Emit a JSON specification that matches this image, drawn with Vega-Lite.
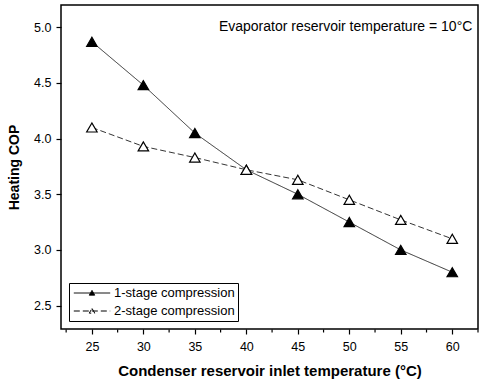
{
  "$schema": "https://vega.github.io/schema/vega-lite/v6.json",
  "width": 417,
  "height": 324,
  "autosize": {"type": "none"},
  "padding": {"left": 61, "top": 5, "right": 3, "bottom": 57},
  "background": "white",
  "config": {
    "font": "Liberation Sans",
    "view": {"stroke": "black", "strokeWidth": 1.5},
    "axis": {"grid": false, "domain": false, "tickColor": "black", "labelColor": "black", "titleColor": "black", "labelFontSize": 12.5, "labelFont": "Liberation Sans", "titleFont": "Liberation Sans", "labelOverlap": false}
  },
  "datasets": {
    "cop": [
      {"T": 25, "COP": 4.87, "series": "1-stage compression"},
      {"T": 30, "COP": 4.48, "series": "1-stage compression"},
      {"T": 35, "COP": 4.05, "series": "1-stage compression"},
      {"T": 40, "COP": 3.72, "series": "1-stage compression"},
      {"T": 45, "COP": 3.50, "series": "1-stage compression"},
      {"T": 50, "COP": 3.25, "series": "1-stage compression"},
      {"T": 55, "COP": 3.00, "series": "1-stage compression"},
      {"T": 60, "COP": 2.80, "series": "1-stage compression"},
      {"T": 25, "COP": 4.10, "series": "2-stage compression"},
      {"T": 30, "COP": 3.93, "series": "2-stage compression"},
      {"T": 35, "COP": 3.83, "series": "2-stage compression"},
      {"T": 40, "COP": 3.72, "series": "2-stage compression"},
      {"T": 45, "COP": 3.63, "series": "2-stage compression"},
      {"T": 50, "COP": 3.45, "series": "2-stage compression"},
      {"T": 55, "COP": 3.27, "series": "2-stage compression"},
      {"T": 60, "COP": 3.10, "series": "2-stage compression"}
    ],
    "note": [
      {"T": 61.95, "COP": 5.0, "label": "Evaporator reservoir temperature = 10°C"}
    ],
    "minor": [
      {"T": 22.5}, {"T": 27.5}, {"T": 32.5}, {"T": 37.5}, {"T": 42.5},
      {"T": 47.5}, {"T": 52.5}, {"T": 57.5}, {"T": 62.5}
    ]
  },
  "layer": [
    {
      "data": {"name": "cop"},
      "mark": {"type": "line", "color": "black", "strokeWidth": 0.8},
      "encoding": {
        "x": {
          "field": "T", "type": "quantitative",
          "scale": {"domain": [22, 62.5], "nice": false, "zero": false},
          "axis": {
            "values": [25, 30, 35, 40, 45, 50, 55, 60],
            "format": "d",
            "labelOverlap": false,
            "labelFlush": false,
            "tickSize": 5,
            "tickWidth": 1.2,
            "labelPadding": 6,
            "title": "Condenser reservoir inlet temperature (°C)",
            "titleFontSize": 15, "titleFontWeight": "bold", "titlePadding": 11
          }
        },
        "y": {
          "field": "COP", "type": "quantitative",
          "scale": {"domain": [2.29, 5.2], "nice": false, "zero": false},
          "axis": {
            "values": [2.5, 2.75, 3.0, 3.25, 3.5, 3.75, 4.0, 4.25, 4.5, 4.75, 5.0],
            "format": ".1f",
            "labelExpr": "abs(datum.value*2 - round(datum.value*2)) < 0.01 ? datum.label : ''",
            "labelOverlap": false,
            "tickSize": {"condition": {"test": "abs(datum.value*2 - round(datum.value*2)) < 0.01", "value": 5}, "value": 3},
            "tickWidth": 1.2,
            "labelPadding": 5,
            "title": "Heating COP",
            "titleFontSize": 14, "titleFontWeight": "bold", "titlePadding": 12
          }
        },
        "strokeDash": {
          "field": "series", "type": "nominal",
          "scale": {"domain": ["1-stage compression", "2-stage compression"], "range": [[1, 0], [6, 3]]},
          "legend": {
            "title": null,
            "orient": "bottom-left",
            "offset": 8,
            "strokeColor": "black",
            "padding": 3,
            "fillColor": "white",
            "labelFontSize": 13,
            "labelColor": "black",
            "symbolType": "M-2.8,0H2.8M0,-0.4L0.42,0.33L-0.42,0.33Z",
            "symbolSize": 169,
            "symbolOffset": 13,
            "labelOffset": 15,
            "symbolStrokeColor": "black",
            "symbolStrokeWidth": 1,
            "rowPadding": 4,
            "encode": {
              "symbols": {
                "update": {
                  "stroke": {"value": "black"},
                  "strokeWidth": {"value": 1},
                  "opacity": {"value": 1},
                  "fill": {"signal": "datum.value === '1-stage compression' ? 'black' : 'white'"},
                  "strokeDash": {"signal": "datum.value === '1-stage compression' ? [1,0] : [1.5,2]"}
                }
              }
            }
          }
        }
      }
    },
    {
      "data": {"name": "cop"},
      "mark": {"type": "point", "shape": "triangle-up", "size": 110, "stroke": "black", "strokeWidth": 1.2, "opacity": 1, "filled": false},
      "encoding": {
        "x": {"field": "T", "type": "quantitative"},
        "y": {"field": "COP", "type": "quantitative"},
        "fill": {
          "field": "series", "type": "nominal",
          "scale": {"domain": ["1-stage compression", "2-stage compression"], "range": ["black", "white"]},
          "legend": null
        }
      }
    },
    {
      "data": {"name": "minor"},
      "mark": {"type": "tick", "orient": "vertical", "color": "black", "thickness": 1.2, "size": 3, "yOffset": 2, "opacity": 1},
      "encoding": {
        "x": {"field": "T", "type": "quantitative"},
        "y": {"datum": 2.29, "type": "quantitative"}
      }
    },
    {
      "data": {"name": "note"},
      "mark": {"type": "text", "align": "right", "baseline": "middle", "fontSize": 14, "color": "black"},
      "encoding": {
        "x": {"field": "T", "type": "quantitative"},
        "y": {"field": "COP", "type": "quantitative"},
        "text": {"field": "label"}
      }
    }
  ]
}
